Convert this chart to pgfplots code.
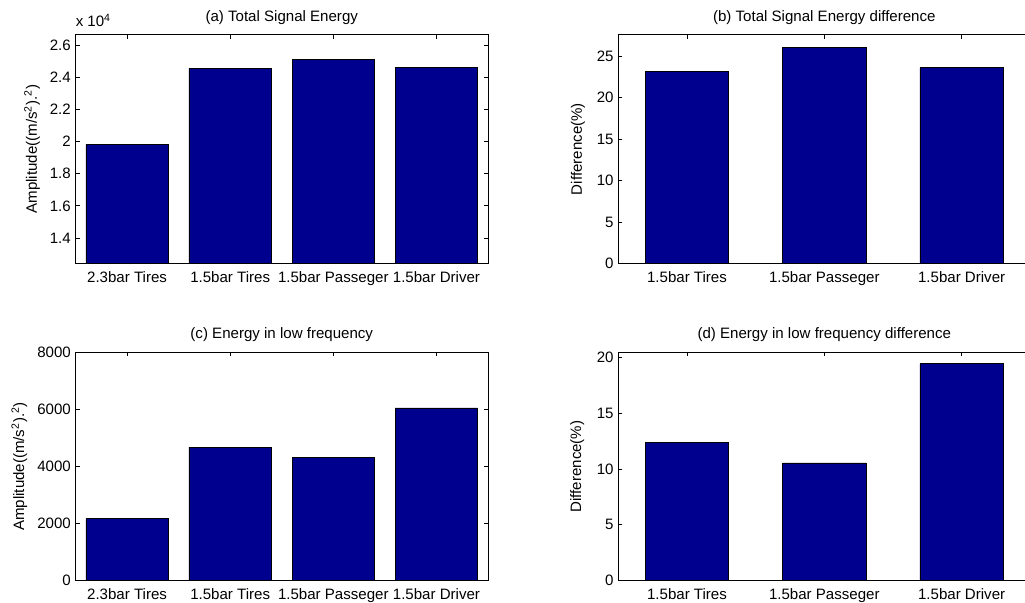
\documentclass[border=0pt]{standalone}
\usepackage{fontspec}
\setmainfont{Liberation Sans}
\usepackage{pgfplots}
\pgfplotsset{compat=1.18}
\definecolor{mbar}{RGB}{0,0,143}
\pgfplotsset{
 mystyle/.style={
  scale only axis,
  ybar,
  font=\fontsize{11.3}{13}\selectfont,
  tick align=inside,
  major tick length=3pt,
  axis line style={black, line width=0.6pt},
  tick style={black, line width=0.5pt},
  enlargelimits=false,
  scaled y ticks=false,
  /pgf/number format/assume math mode=true,
  /pgf/number format/1000 sep={},
  title style={yshift=-1.7pt},
  xticklabel style={yshift=-2.5pt},
 },
 four/.style={xtick={1,2,3,4}, xmin=0.5, xmax=4.5, bar width=0.8,
  xticklabels={2.3bar Tires, 1.5bar Tires, 1.5bar Passeger, 1.5bar Driver},
  width=309.375pt, height=171.3pt},
 three/.style={xtick={1,2,3}, xmin=0.5, xmax=3.5, bar width=0.607,
  xticklabels={1.5bar Tires, 1.5bar Passeger, 1.5bar Driver},
  width=309pt, height=171.3pt},
}
\begin{document}
\begin{tikzpicture}
% (a)
\begin{axis}[mystyle, four, name=axa, at={(56.625pt,254.775pt)}, anchor=south west,
  ymin=12430, ymax=26620,
  ytick={14000,16000,18000,20000,22000,24000,26000},
  yticklabels={1.4,1.6,1.8,2,2.2,2.4,2.6},
  title={(a) Total Signal Energy},
  ylabel={Amplitude((m/s\textsuperscript{2}).\textsuperscript{2})},
  ylabel style={at={(axis description cs:-0.105,0.5)}, anchor=center}]
\addplot[fill=mbar, draw=black, line width=0.4pt] coordinates {(1,19825) (2,24550) (3,25110) (4,24600)};
\end{axis}
\node[anchor=base west, yshift=6pt, inner sep=0pt, font=\fontsize{11.3}{13}\selectfont] at (axa.north west) {x 10\textsuperscript{4}};
% (b)
\begin{axis}[mystyle, three, at={(463.725pt,254.775pt)}, anchor=south west,
  ymin=0, ymax=27.6, ytick={0,5,10,15,20,25},
  title={(b) Total Signal Energy difference},
  ylabel={Difference(\%)},
  ylabel style={at={(axis description cs:-0.098,0.5)}, anchor=center}]
\addplot[fill=mbar, draw=black, line width=0.4pt] coordinates {(1,23.17) (2,26.12) (3,23.65)};
\end{axis}
% (c)
\begin{axis}[mystyle, four, at={(56.625pt,16.725pt)}, anchor=south west,
  ymin=0, ymax=8000, ytick={0,2000,4000,6000,8000},
  title={(c) Energy in low frequency},
  ylabel={Amplitude((m/s\textsuperscript{2}).\textsuperscript{2})},
  ylabel style={at={(axis description cs:-0.136,0.5)}, anchor=center}]
\addplot[fill=mbar, draw=black, line width=0.4pt] coordinates {(1,2175) (2,4680) (3,4315) (4,6050)};
\end{axis}
% (d)
\begin{axis}[mystyle, three, at={(463.725pt,16.725pt)}, anchor=south west,
  ymin=0, ymax=20.42, ytick={0,5,10,15,20},
  title={(d) Energy in low frequency difference},
  ylabel={Difference(\%)},
  ylabel style={at={(axis description cs:-0.1,0.5)}, anchor=center}]
\addplot[fill=mbar, draw=black, line width=0.4pt] coordinates {(1,12.36) (2,10.54) (3,19.41)};
\end{axis}
\pgfresetboundingbox
\useasboundingbox (0pt,0pt) rectangle (768.75pt,452.25pt);
\end{tikzpicture}
\end{document}
